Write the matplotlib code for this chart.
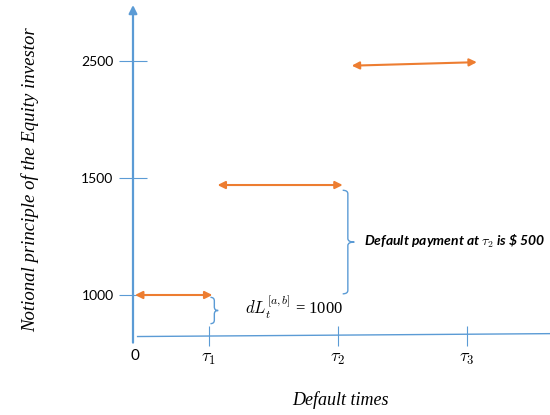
import numpy as np
import matplotlib.pyplot as plt
from matplotlib.path import Path
from matplotlib.patches import PathPatch

plt.rcParams["mathtext.fontset"] = "cm"

# notional levels of the equity investor (ordinal positions on the schematic y axis)
notional_labels = ["1000", "1500", "2500"]
# default times (in units of tau spacing)
time_labels = ["0", r"$\tau_1$", r"$\tau_2$", r"$\tau_3$"]
default_times = [0.0, 0.57, 1.57, 2.57]
# each orange arrow: notional level index, start time, end time
arrow_level = [0, 1, 2]
arrow_start = [0.0, 0.64, 1.68]
arrow_end = [0.60, 1.61, 2.65]

BLUE = "#5B9BD5"
ORANGE = "#ED7D31"

W, H = 550, 415
fig = plt.figure(figsize=(W / 100, H / 100), dpi=100)

# pixel geometry of the axes box
px_left, px_right, px_top, px_bottom = 133, 550, 5, 336
x0_px, xunit = 135, 129      # time 0 at px 135, one tau step = 129 px
y0_px, yunit = 295, 117      # level 0 at px 295, one level = 117 px

ax = fig.add_axes([px_left / W, (H - px_bottom) / H,
                   (px_right - px_left) / W, (px_bottom - px_top) / H])
ax.set_xlim((px_left - x0_px) / xunit, (px_right - x0_px) / xunit)
ax.set_ylim((y0_px - px_bottom) / yunit, (y0_px - px_top) / yunit)
ax.patch.set_alpha(0)

for s in ["top", "right", "left", "bottom"]:
    ax.spines[s].set_visible(False)

# x axis (slightly tilted like the hand drawn original)
ax.plot([0.02, 3.25], [-0.355, -0.33], color=BLUE, lw=1.0, clip_on=False)

# y axis with arrow head
ax.annotate("", xy=(0, 1.0), xytext=(0, -0.02), xycoords="axes fraction",
            arrowprops=dict(arrowstyle="-|>", color=BLUE, lw=1.6, mutation_scale=12,
                            shrinkA=0, shrinkB=0))

ax.set_yticks(range(len(notional_labels)))
ax.set_yticklabels(notional_labels, fontsize=10, family="Lato")
ax.tick_params(axis="y", direction="inout", length=20, width=0.8, color=BLUE, pad=4)

ax.set_xticks(default_times)
ax.set_xticklabels(time_labels, fontsize=13)
ax.tick_params(axis="x", direction="inout", length=15, width=0.8, color=BLUE, pad=2)
ax.get_xticklines()[0].set_visible(False)
ax.get_xticklines()[1].set_visible(False)
xlabs = ax.get_xticklabels()
xlabs[0].set_family("Lato")
xlabs[0].set_fontsize(11)

# orange double arrows
y_shift = [0.0, -0.06, -0.04]
for lvl, t0, t1 in zip(arrow_level, arrow_start, arrow_end):
    yy = lvl + y_shift[lvl]
    y_end = yy + (0.03 if lvl == 2 else 0)
    ax.annotate("", xy=(t1, y_end), xytext=(t0, yy),
                arrowprops=dict(arrowstyle="<|-|>", color=ORANGE, lw=1.5,
                                mutation_scale=11, shrinkA=0, shrinkB=0),
                annotation_clip=False)


def brace(x, y_top, y_bot, w, nub):
    ym = (y_top + y_bot) / 2
    verts = [(x - w, y_top), (x, y_top), (x, y_top - 0.03),
             (x, ym + 0.03), (x, ym), (x + nub, ym),
             (x, ym), (x, ym - 0.03),
             (x, y_bot + 0.03), (x, y_bot), (x - w, y_bot)]
    codes = [Path.MOVETO, Path.CURVE3, Path.CURVE3,
             Path.LINETO, Path.CURVE3, Path.CURVE3,
             Path.CURVE3, Path.CURVE3,
             Path.LINETO, Path.CURVE3, Path.CURVE3]
    ax.add_patch(PathPatch(Path(verts, codes), fill=False, edgecolor=BLUE, lw=1.0,
                           clip_on=False))


brace(0.615, -0.02, -0.245, 0.03, 0.03)
brace(1.65, 0.895, 0.01, 0.04, 0.05)

ax.text(1.775, 0.46, r"Default payment at $\tau_2$ is \$ 500", fontsize=10,
        fontweight="bold", style="italic", family="Lato", va="center", ha="left")
ax.text(0.85, -0.11, r"$dL_t^{[a,b]}$ = 1000", fontsize=12, family="Liberation Serif",
        va="center", ha="left")

fig.text(30 / W, 1 - 180 / H, "Notional principle of the Equity investor", rotation=90,
         fontsize=13.5, family="Liberation Serif", style="italic", ha="center", va="center")
fig.text(340 / W, 1 - 400 / H, "Default times", fontsize=13, family="Liberation Serif",
         style="italic", ha="center", va="center")

fig.savefig("out.png", dpi=100)
